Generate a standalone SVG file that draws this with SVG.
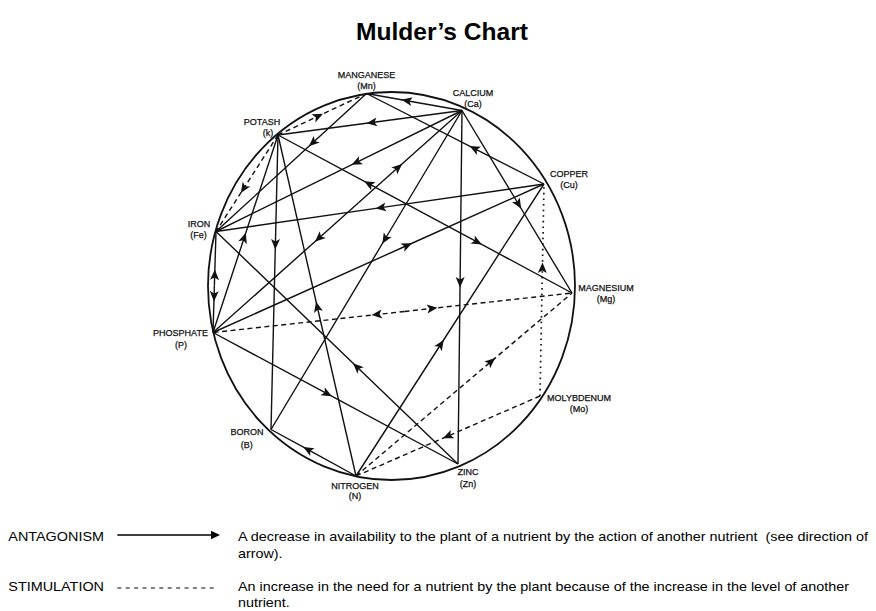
<svg xmlns="http://www.w3.org/2000/svg" width="876" height="611" viewBox="0 0 876 611">
<style>
.lbl{font-family:"Liberation Sans",Arial,sans-serif;font-size:9px;fill:#111;stroke:#111;stroke-width:0.25;text-anchor:middle}
.leg{font-family:"Liberation Sans",Arial,sans-serif;font-size:13px;fill:#000}
.ant{fill:none;stroke:#111;stroke-width:1.4;marker-mid:url(#ah)}
.sti{fill:none;stroke:#111;stroke-width:1.4;stroke-dasharray:5 3.5;marker-mid:url(#ah)}
.dot{fill:none;stroke:#111;stroke-width:1.7;stroke-dasharray:1.6 4;marker-mid:url(#ah)}
</style>
<defs>
<marker id="ah" viewBox="-6 -5 12 10" refX="0" refY="0" markerWidth="12" markerHeight="10" markerUnits="userSpaceOnUse" orient="auto">
<path d="M5.5,0 L-5,-4.5 L-2.5,0 L-5,4.5 Z" fill="#111"/>
</marker>
<marker id="legah" viewBox="0 -5 10 10" refX="1" refY="0" markerWidth="10" markerHeight="10" markerUnits="userSpaceOnUse" orient="auto">
<path d="M0,-4.4 L9.5,0 L0,4.4 Z" fill="#000"/>
</marker>
</defs>
<rect width="876" height="611" fill="#fff"/>
<text x="442" y="39.5" text-anchor="middle" textLength="172" lengthAdjust="spacingAndGlyphs" style="font-family:'Liberation Sans',Arial,sans-serif;font-size:24px;font-weight:bold">Mulder’s Chart</text>
<ellipse cx="391.5" cy="286" rx="183.5" ry="194" fill="none" stroke="#111" stroke-width="1.8"/>
<g id="connectors">
<path class="ant" d="M462,110.5 L407,100.7 L366.5,93.5"/>
<path class="ant" d="M462,110.5 L372,122.5 L278,135"/>
<path class="ant" d="M462,110.5 L356.5,162.4 L216,231.5"/>
<path class="ant" d="M358.5,202.8 L398,167.6 L462,110.5"/>
<path class="ant" d="M358.5,202.8 L319,238 L213,332.5"/>
<path class="ant" d="M462,110.5 L385.1,239 L271,429.5"/>
<path class="ant" d="M462,110.5 L460.1,282 L458,464"/>
<path class="ant" d="M462,110.5 L518.4,204 L572,293"/>
<path class="ant" d="M544,184 L474.5,148.6 L366.5,93.5"/>
<path class="ant" d="M366.5,93.5 L313,142.6 L216,231.5"/>
<path class="ant" d="M544,184 L381,207.6 L216,231.5"/>
<path class="ant" d="M213,332.5 L407,245.5 L544,184"/>
<path class="ant" d="M356,476 L440.7,344.5 L544,184"/>
<path class="ant" d="M423,212.9 L369,183.9 L278,135"/>
<path class="ant" d="M423,212.9 L477,241.9 L572,293"/>
<path class="ant" d="M213,332.5 L244.1,238 L278,135"/>
<path class="ant" d="M278,135 L275.4,244 L271,429.5"/>
<path class="ant" d="M356,476 L317.3,307 L278,135"/>
<path class="ant" d="M214.4,285.5 L214.7,275 L216,231.5"/>
<path class="ant" d="M214.4,285.5 L214.1,296 L213,332.5"/>
<path class="ant" d="M458,464 L357,367 L216,231.5"/>
<path class="ant" d="M213,332.5 L327,393.7 L458,464"/>
<path class="ant" d="M356,476 L308,449.7 L271,429.5"/>
<path class="sti" d="M278,135 L318,116.2 L366.5,93.5"/>
<path class="sti" d="M278,135 L243.8,188.3 L216,231.5"/>
<path class="sti" d="M404.5,311.5 L377,314.5 L213,332.5"/>
<path class="sti" d="M404.5,311.5 L432,308.4 L572,293"/>
<path class="sti" d="M356,476 L491,361.6 L572,293"/>
<path class="sti" d="M540,396 L448,436 L356,476"/>
<path class="dot" d="M540,396 L542.4,268 L544,184"/>
</g>
<g id="node-mn"><text class="lbl" x="366.5" y="78.2">MANGANESE</text><text class="lbl" x="366.5" y="89">(Mn)</text></g>
<g id="node-ca"><text class="lbl" x="473" y="96.2">CALCIUM</text><text class="lbl" x="473" y="107">(Ca)</text></g>
<g id="node-k"><text class="lbl" x="262" y="125">POTASH</text><text class="lbl" x="268" y="136">(k)</text></g>
<g id="node-fe"><text class="lbl" x="199" y="227.2">IRON</text><text class="lbl" x="198.5" y="238">(Fe)</text></g>
<g id="node-p"><text class="lbl" x="180.5" y="335.5">PHOSPHATE</text><text class="lbl" x="181" y="348">(P)</text></g>
<g id="node-cu"><text class="lbl" x="569" y="176.5">COPPER</text><text class="lbl" x="569" y="187.5">(Cu)</text></g>
<g id="node-mg"><text class="lbl" x="606" y="290.5">MAGNESIUM</text><text class="lbl" x="606" y="301.5">(Mg)</text></g>
<g id="node-mo"><text class="lbl" x="579" y="400.5">MOLYBDENUM</text><text class="lbl" x="579" y="411.5">(Mo)</text></g>
<g id="node-b"><text class="lbl" x="247" y="435">BORON</text><text class="lbl" x="246.7" y="447.5">(B)</text></g>
<g id="node-n"><text class="lbl" x="355" y="489">NITROGEN</text><text class="lbl" x="355" y="499">(N)</text></g>
<g id="node-zn"><text class="lbl" x="468" y="475">ZINC</text><text class="lbl" x="468" y="486.5">(Zn)</text></g>
<g id="legend">
<text class="leg" x="8.3" y="540.7" textLength="95.7" lengthAdjust="spacingAndGlyphs">ANTAGONISM</text>
<line x1="117.3" y1="535" x2="211.5" y2="535" stroke="#000" stroke-width="1.4" marker-end="url(#legah)"/>
<text class="leg" x="238" y="540.7" textLength="630" lengthAdjust="spacingAndGlyphs">A decrease in availability to the plant of a nutrient by the action of another nutrient&#160; (see direction of</text>
<text class="leg" x="238" y="557.5" textLength="44.5" lengthAdjust="spacingAndGlyphs">arrow).</text>
<text class="leg" x="8.3" y="590.7" textLength="95.7" lengthAdjust="spacingAndGlyphs">STIMULATION</text>
<line x1="117.3" y1="588" x2="218" y2="588" stroke="#000" stroke-width="1" stroke-dasharray="4 4.4"/>
<text class="leg" x="238" y="590.7" textLength="611" lengthAdjust="spacingAndGlyphs">An increase in the need for a nutrient by the plant because of the increase in the level of another</text>
<text class="leg" x="238" y="607.3" textLength="51.7" lengthAdjust="spacingAndGlyphs">nutrient.</text>
</g>
</svg>
